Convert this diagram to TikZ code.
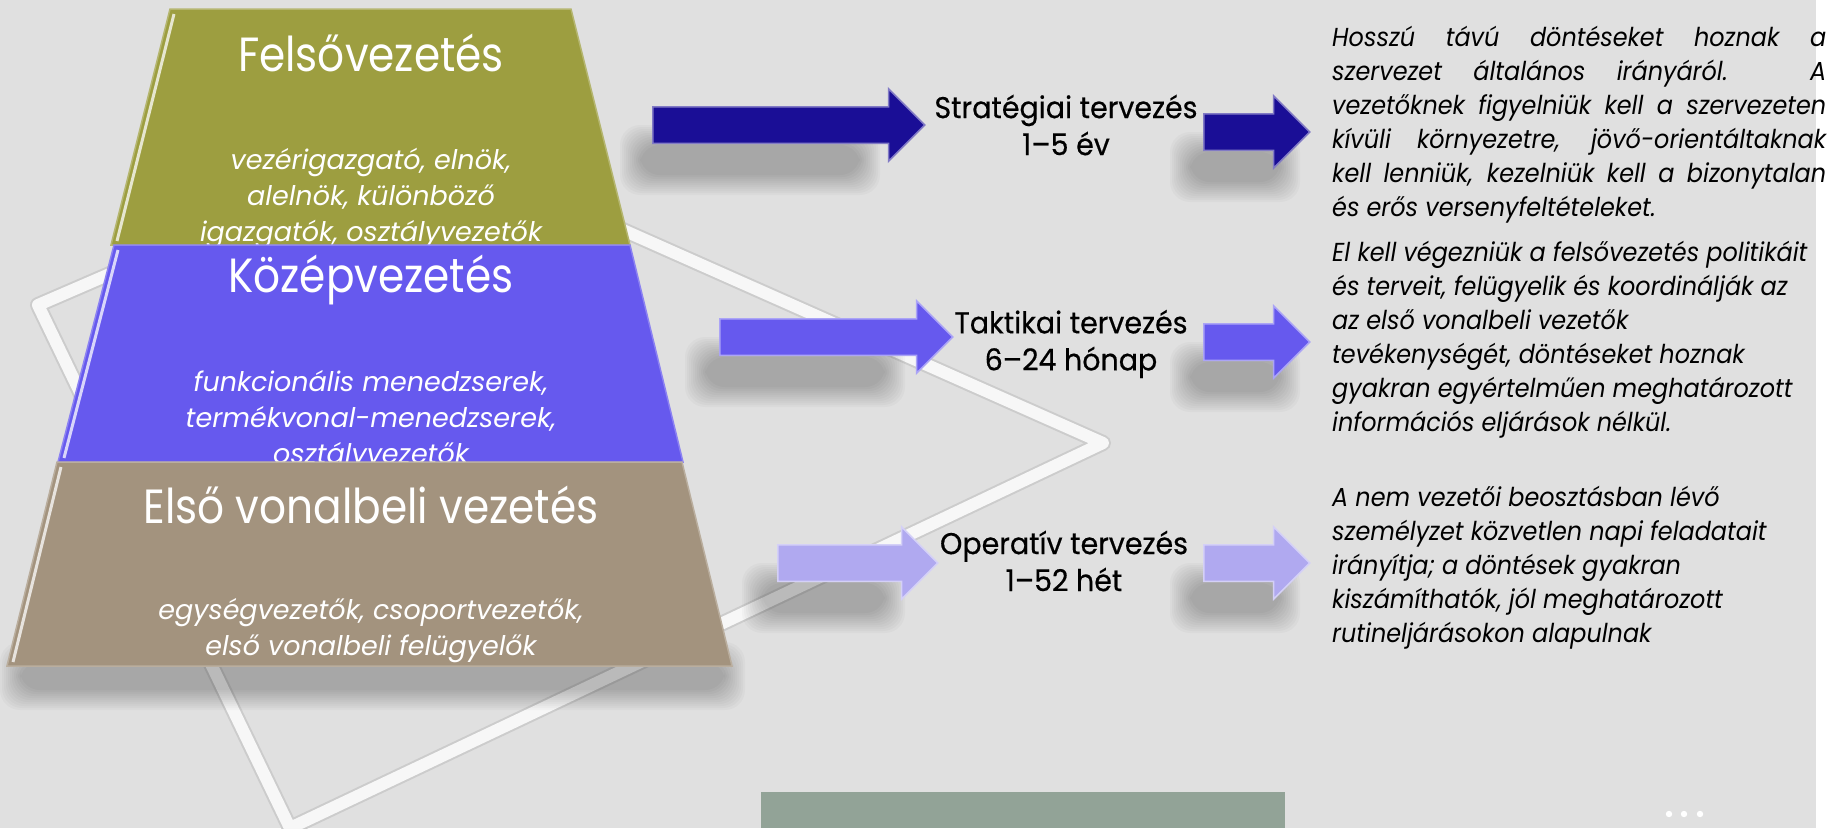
\documentclass[tikz,border=0pt]{standalone}
\usepackage{fontspec}
\setmainfont{Poppins}
\newfontfamily\titlefont[FakeStretch=0.88]{Poppins}
\newfontfamily\labelfont[FakeStretch=0.95,FakeBold=0.5]{Poppins}
\newfontfamily\descfont[FakeStretch=0.92]{Poppins}
\usetikzlibrary{shapes.arrows}
\hyphenpenalty=10000
\exhyphenpenalty=10000

\definecolor{pageGray}{HTML}{E0E0E0}
\definecolor{topOlive}{HTML}{9D9E40}
\definecolor{midViolet}{HTML}{6659EE}
\definecolor{lowTaupe}{HTML}{A3937E}
\definecolor{stratNavy}{HTML}{1A0E96}
\definecolor{operLilac}{HTML}{B0A9F0}
\definecolor{barGreen}{HTML}{92A397}

% soft grey shadow band, corners given
\newcommand{\softShadow}[4]{%
  \foreach \g in {0,2,...,20}
    \fill[black, opacity=0.022, rounded corners=20pt]
      (#1-\g,#2-\g) rectangle (#3+\g,#4+\g);}
% one justified line of the long description
\newcommand{\fullLine}[1]{\makebox[494pt][s]{#1}}

\begin{document}
\begin{tikzpicture}[x=1pt,y=-1pt,
    tier/.style={fill=#1, draw=#1!75!white, line width=1.5pt},
    tierGlint/.style={white, line width=3pt, opacity=0.75},
    tierTitle/.style={text=white, inner sep=0pt,
      font=\titlefont\fontsize{48}{52}\selectfont},
    tierSub/.style={text=white, inner sep=0pt, align=center,
      font=\itshape\fontsize{27}{36}\selectfont},
    planArrow/.style={single arrow, fill=#1, draw=#1!55!white,
      line width=1.5pt, inner xsep=0pt, inner ysep=17.5pt,
      single arrow head extend=18pt, minimum width=0pt, anchor=tail},
    planLabel/.style={inner sep=0pt, align=center,
      font=\labelfont\fontsize{30}{37}\selectfont},
    descText/.style={inner sep=0pt, anchor=north west, align=left,
      font=\descfont\itshape\fontsize{26}{34}\selectfont}]

  % page and backdrop
  \useasboundingbox (0,0) rectangle (1833,828);
  \clip (0,0) rectangle (1833,828);
  \fill[pageGray] (0,0) rectangle (1816,828);
  \fill[white] (1816,0) rectangle (1833,828);

  % tilted picture frame behind the pyramid
  \draw[black!20, line width=16pt, line join=round]
    (38,305) -- (420,140) -- (1103,443) -- (290,828) -- cycle;
  \draw[black!3, line width=12pt, line join=round]
    (38,305) -- (420,140) -- (1103,443) -- (290,828) -- cycle;

  % shadows
  \softShadow{20}{662}{725}{690}
  \softShadow{640}{145}{860}{175}
  \softShadow{1190}{152}{1280}{182}
  \softShadow{705}{357}{885}{387}
  \softShadow{1190}{362}{1280}{392}
  \softShadow{762}{583}{885}{613}
  \softShadow{1190}{583}{1280}{613}

  % pyramid, top tier first so the lower tiers cover its last line
  \path[tier=topOlive] (170,9) -- (571,9) -- (630,245) -- (111,245) -- cycle;
  \draw[tierGlint] (174,14) -- (117,241);
  \node[tierTitle] (topTitle) at (371,53) {Felsővezetés};
  \node[tierSub] (topStaff) at (371,198)
    {vezérigazgató, elnök,\\alelnök, különböző\\igazgatók, osztályvezetők};

  \path[tier=midViolet] (114,245) -- (630,245) -- (683,462) -- (58,462) -- cycle;
  \draw[tierGlint] (118,250) -- (64,458);
  \node[tierTitle] (midTitle) at (371,280) {Középvezetés};
  \node[tierSub] (midStaff) at (371,420)
    {funkcionális menedzserek,\\termékvonal-menedzserek,\\osztályvezetők};

  \path[tier=lowTaupe] (57,462) -- (682,462) -- (732,666) -- (7,666) -- cycle;
  \draw[tierGlint] (61,467) -- (13,662);
  \node[tierTitle] (lowTitle) at (371,505) {Első vonalbeli vezetés};
  \node[tierSub] (lowStaff) at (371,631)
    {egységvezetők, csoportvezetők,\\első vonalbeli felügyelők};

  % planning levels
  \node[planArrow=stratNavy, minimum height=272pt] (stratIn) at (652,125) {};
  \node[planLabel] (stratLabel) at (1066,125) {Stratégiai tervezés\\1–5 év};
  \node[planArrow=stratNavy, minimum height=106pt] (stratOut) at (1203,132) {};

  \node[planArrow=midViolet, minimum height=233pt] (tactIn) at (719,337) {};
  \node[planLabel] (tactLabel) at (1071,344) {Taktikai tervezés\\6–24 hónap};
  \node[planArrow=midViolet, minimum height=106pt] (tactOut) at (1203,342) {};

  \node[planArrow=operLilac, minimum height=160pt] (operIn) at (777,563) {};
  \node[planLabel] (operLabel) at (1064,561) {Operatív tervezés\\1–52 hét};
  \node[planArrow=operLilac, minimum height=106pt] (operOut) at (1203,563) {};

  % descriptions
  \node[descText] (stratDesc) at (1332,26)
    {\fullLine{Hosszú távú döntéseket hoznak a}\\
     \fullLine{szervezet általános irányáról. A}\\
     \fullLine{vezetőknek figyelniük kell a szervezeten}\\
     \fullLine{kívüli környezetre, jövő-orientáltaknak}\\
     \fullLine{kell lenniük, kezelniük kell a bizonytalan}\\
     és erős versenyfeltételeket.};
  \node[descText] (tactDesc) at (1332,241)
    {El kell végezniük a felsővezetés politikáit\\
     és terveit, felügyelik és koordinálják az\\
     az első vonalbeli vezetők\\
     tevékenységét, döntéseket hoznak\\
     gyakran egyértelműen meghatározott\\
     információs eljárások nélkül.};
  \node[descText] (operDesc) at (1332,486)
    {A nem vezetői beosztásban lévő\\
     személyzet közvetlen napi feladatait\\
     irányítja; a döntések gyakran\\
     kiszámíthatók, jól meghatározott\\
     rutineljárásokon alapulnak};

  % footer bar and slide dots
  \fill[barGreen] (761,792) rectangle (1285,828);
  \foreach \dx in {1669,1684,1700}
    \fill[white] (\dx,814) circle (3.2);

\end{tikzpicture}
\end{document}
